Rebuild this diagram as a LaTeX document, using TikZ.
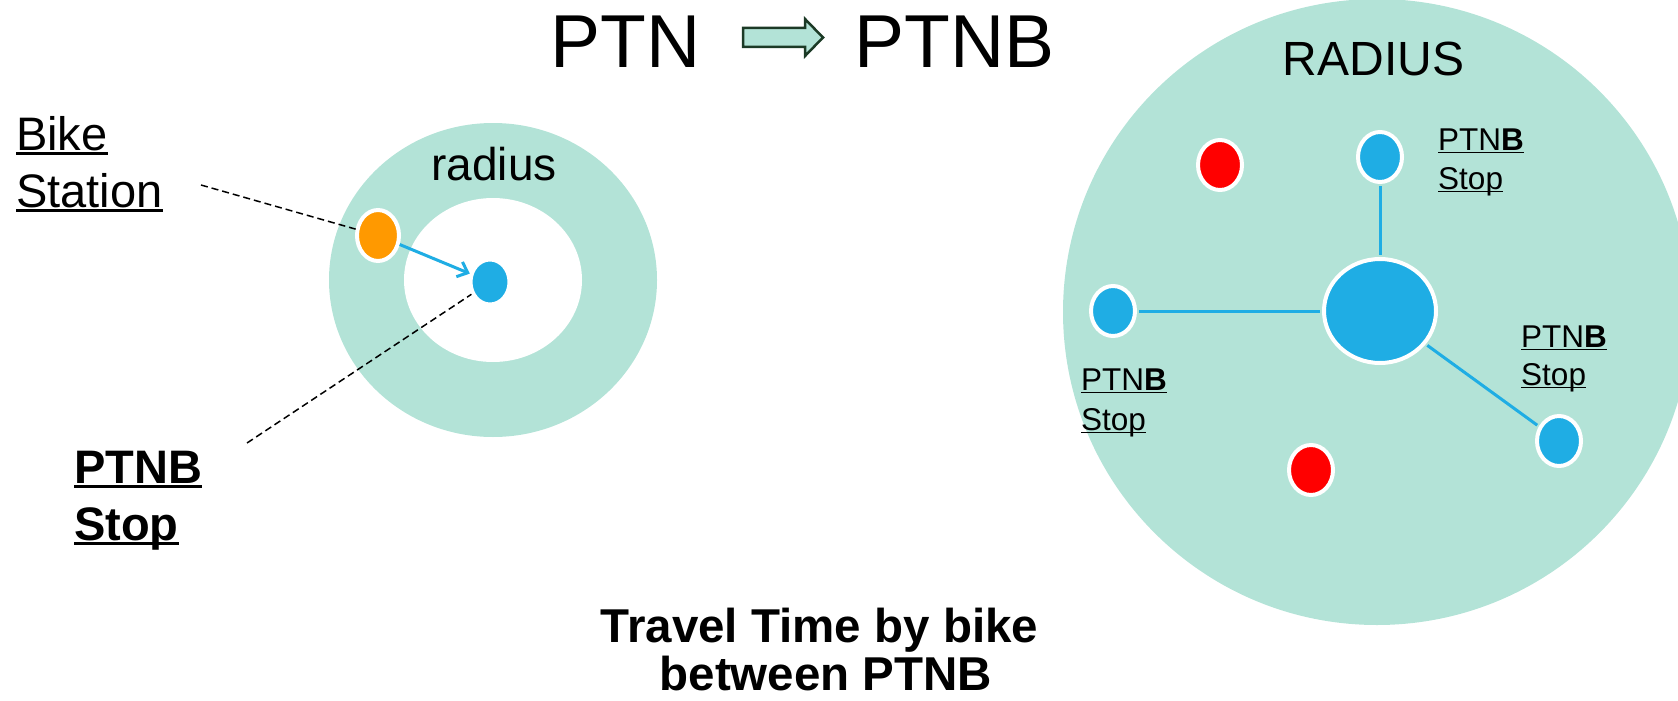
\documentclass[tikz,border=0pt]{standalone}
\usepackage{fontspec}
\setmainfont{Liberation Sans}
\usetikzlibrary{shapes.geometric,arrows.meta}

\definecolor{mint}{HTML}{B3E3D7}
\definecolor{stopblue}{HTML}{1FADE4}
\definecolor{bikeorange}{HTML}{FF9900}
\definecolor{otherred}{HTML}{FF0000}
\definecolor{arrowedge}{HTML}{1C3A26}

% underlined text whose rule crosses descenders, as in slide software
\newcommand\ulbox[1]{\setbox0\hbox{#1}\rlap{\rule[-0.11em]{\wd0}{0.06em}}\box0}

\begin{document}
\begin{tikzpicture}[x=1pt,y=-1pt,
  dot/.style={ellipse, inner sep=0pt, draw=white, line width=4pt,
              minimum width=44pt, minimum height=50pt},
  lbl/.style={inner sep=0pt, anchor=base west},
  ctr/.style={inner sep=0pt, anchor=base},
  link/.style={draw=stopblue, line width=3pt, shorten <=2pt, shorten >=2pt},
  pointer/.style={draw=black, line width=1.5pt, dash pattern=on 7pt off 4pt},
  big/.style={font=\fontsize{47pt}{56pt}\selectfont},
  small/.style={font=\fontsize{31.5pt}{38pt}\selectfont}
]
\useasboundingbox (0,0) rectangle (1678,701);

% ---------- title ----------
\node[ctr, font=\fontsize{75pt}{90pt}\selectfont] (ptn) at (625.5,67) {PTN};
\node[ctr, font=\fontsize{75pt}{90pt}\selectfont] (ptnb) at (954.5,67) {PTNB};
\filldraw[fill=mint, draw=arrowedge, line width=2.5pt, line join=miter]
  (743,28) -- (805,28) -- (805,19) -- (823,37.5) -- (805,56) -- (805,47) -- (743,47) -- cycle;

% ---------- left: catchment ring of one stop ----------
\node[ellipse, fill=mint, inner sep=0pt, minimum width=328pt, minimum height=314pt] (ring) at (493,280) {};
\node[ellipse, fill=white, inner sep=0pt, minimum width=178pt, minimum height=164pt] (hole) at (493,280) {};
\node[ctr, font=\fontsize{46pt}{55pt}\selectfont] (rlabel) at (494,180) {radius};

\node[dot, fill=bikeorange, minimum width=42pt, minimum height=51pt] (bike) at (378,235.5) {};
\node[dot, fill=stopblue, minimum width=39pt, minimum height=45pt] (stopL) at (490,282) {};

\coordinate (bikeTip) at (201,185);
\coordinate (stopTip) at (247,443);
\draw[pointer] (bikeTip) -- (bike);
\draw[pointer] (stopTip) -- (stopL);
\draw[draw=stopblue, line width=3pt, -{Straight Barb[length=9pt,width=16pt]}] (bike) -- (stopL);

\node[lbl, big] (bk1) at (16,150) {\ulbox{Bike}};
\node[lbl, big] (bk2) at (16,207) {\ulbox{Station}};
\node[lbl, big] (st1) at (74,483) {\ulbox{\bfseries PTNB}};
\node[lbl, big] (st2) at (74,540) {\ulbox{\bfseries Stop}};

% ---------- right: hub within its radius ----------
\begin{scope}
  \clip (0,0) rectangle (1678,701);
  \fill[mint] (1377,312) ellipse [x radius=314pt, y radius=313pt];
\end{scope}
\node[ctr, font=\fontsize{48pt}{58pt}\selectfont] (Rlabel) at (1373.5,75) {RADIUS};

\node[dot, fill=stopblue, minimum width=112pt, minimum height=104pt] (hub) at (1380,311) {};
\node[dot, fill=stopblue] (north) at (1380,157) {};
\node[dot, fill=stopblue] (west) at (1113,311) {};
\node[dot, fill=stopblue] (southeast) at (1559,441) {};
\node[dot, fill=otherred] (redA) at (1220,165) {};
\node[dot, fill=otherred] (redB) at (1311,470) {};

\draw[link] (north) -- (hub);
\draw[link] (west) -- (hub);
\draw[link] (hub) -- (southeast);

\node[lbl, small] (nl1) at (1438,150) {\ulbox{PTN\textbf{B}}};
\node[lbl, small] (nl2) at (1438,189) {\ulbox{Stop}};
\node[lbl, small] (el1) at (1521,347) {\ulbox{PTN\textbf{B}}};
\node[lbl, small] (el2) at (1521,385) {\ulbox{Stop}};
\node[lbl, small] (wl1) at (1081,390) {\ulbox{PTN\textbf{B}}};
\node[lbl, small] (wl2) at (1081,430) {\ulbox{Stop}};

% ---------- caption ----------
\node[ctr, font=\fontsize{47.5pt}{57pt}\selectfont\bfseries] (cap1) at (819.5,642) {Travel Time by bike};
\node[ctr, font=\fontsize{47.5pt}{57pt}\selectfont\bfseries] (cap2) at (826,690) {between PTNB};
\end{tikzpicture}
\end{document}
